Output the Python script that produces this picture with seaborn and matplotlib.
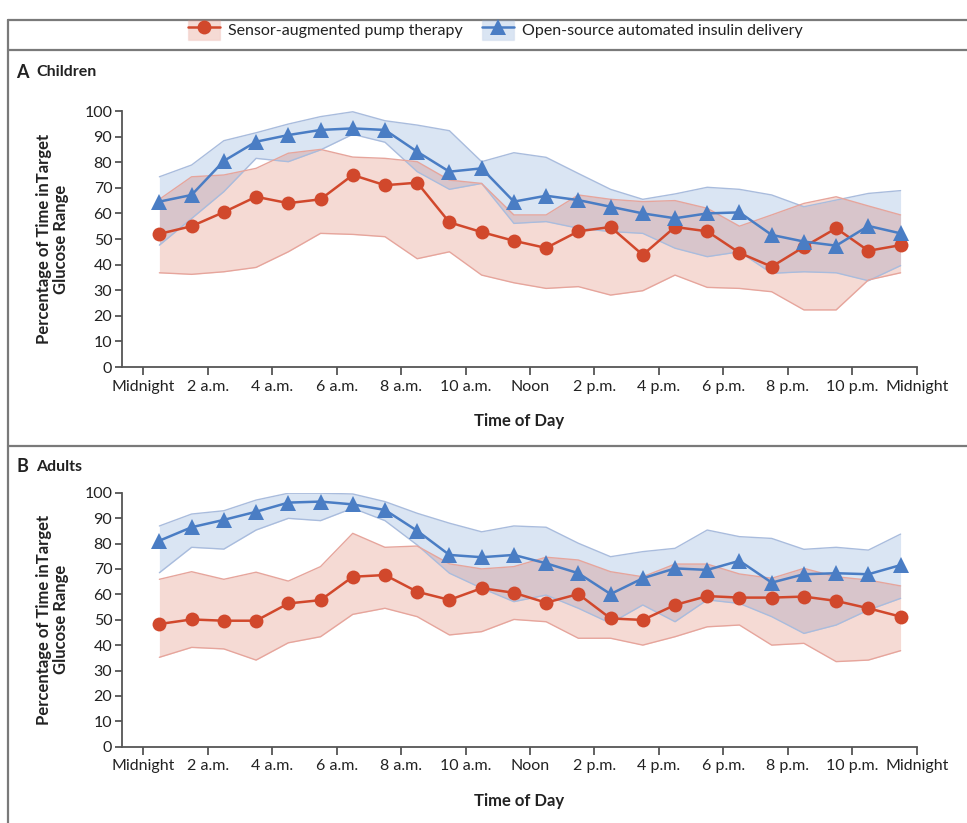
import matplotlib
matplotlib.use("Agg")
import matplotlib.pyplot as plt
import numpy as np
import pandas as pd
import seaborn as sns
from matplotlib.lines import Line2D
from matplotlib.patches import Rectangle
from matplotlib.legend_handler import HandlerTuple

# ---------------- data ----------------
hours = [0.5, 1.5, 2.5, 3.5, 4.5, 5.5, 6.5, 7.5, 8.5, 9.5, 10.5, 11.5,
         12.5, 13.5, 14.5, 15.5, 16.5, 17.5, 18.5, 19.5, 20.5, 21.5, 22.5, 23.5]
tick_hours = [0, 2, 4, 6, 8, 10, 12, 14, 16, 18, 20, 22, 24]
tick_labels = ["Midnight", "2 a.m.", "4 a.m.", "6 a.m.", "8 a.m.", "10 a.m.", "Noon",
               "2 p.m.", "4 p.m.", "6 p.m.", "8 p.m.", "10 p.m.", "Midnight"]
y_ticks = [0, 10, 20, 30, 40, 50, 60, 70, 80, 90, 100]
series_names = ["Sensor-augmented pump therapy", "Open-source automated insulin delivery"]

# Children
child_sap = [52, 55, 60.5, 66.5, 64, 65.5, 75, 71, 72, 56.5, 52.7, 49.3,
             46.5, 53, 54.7, 43.8, 54.7, 53, 44.6, 39.2, 46.9, 54.2, 45.4, 47.6]
child_sap_hi = [65.5, 74.3, 75, 77.6, 83.5, 85, 82, 81.5, 80.2, 73, 71.7, 59.4,
                59.4, 67.2, 65.5, 64.6, 65, 62, 55, 59.4, 63.9, 66.5, 62.9, 59.4]
child_sap_lo = [36.8, 36.2, 37.2, 38.9, 45, 52.2, 51.8, 50.9, 42.3, 45, 35.9, 32.9,
                30.7, 31.4, 28.1, 29.8, 35.9, 31.1, 30.7, 29.4, 22.3, 22.3, 34, 36.8]
child_oaid = [64.6, 67.2, 80.5, 88, 90.6, 92.6, 93.2, 92.6, 84.1, 76.3, 77.6, 64.6,
              66.9, 65.2, 62.6, 60, 58.1, 60, 60.4, 51.6, 49, 47.4, 55.1, 52.2]
child_oaid_hi = [74.3, 78.9, 88.4, 91.5, 94.9, 97.8, 99.7, 96.2, 94.5, 92.3, 80.2, 83.7,
                 81.9, 75.6, 69.4, 65.5, 67.6, 70.2, 69.4, 67.2, 62.6, 65.2, 67.8, 68.9]
child_oaid_lo = [47.6, 58, 68.5, 81.5, 80.2, 84.8, 90.9, 87.8, 76.3, 69.4, 71.7, 56.1,
                 56.8, 54.2, 52.9, 52.2, 46.4, 43.1, 45, 36.6, 37.2, 36.8, 33.7, 39.6]

# Adults
adult_sap = [48.3, 50.1, 49.6, 49.6, 56.4, 57.7, 66.9, 67.6, 61, 57.8, 62.4, 60.6,
             56.7, 60.1, 50.5, 49.9, 55.8, 59.3, 58.7, 58.7, 59.1, 57.4, 54.5, 51.2]
adult_sap_hi = [65.9, 68.9, 65.9, 68.7, 65.2, 70.9, 84, 78.5, 79, 72, 70, 70.9,
                74.6, 73.5, 68.9, 66.9, 71.9, 71.9, 68, 66.3, 70.2, 66.9, 65.6, 63.3]
adult_sap_lo = [35.2, 39.1, 38.5, 34.1, 40.9, 43.3, 52.1, 54.5, 51.2, 44, 45.3, 50.1,
                49.2, 42.7, 42.7, 40, 43.3, 47.2, 47.9, 40, 40.7, 33.5, 34.1, 37.8]
adult_oaid = [81.1, 86.4, 89.3, 92.5, 96.1, 96.5, 95.4, 93.2, 85, 75.5, 74.6, 75.5,
              72.2, 68.3, 60.1, 66.3, 70.2, 69.6, 73.2, 64.6, 67.9, 68.3, 67.9, 71.5]
adult_oaid_hi = [86.9, 91.6, 92.9, 97.1, 99.8, 99.8, 99.5, 96.5, 91.9, 88, 84.6, 86.9,
                 86.4, 80.1, 74.8, 76.8, 78.1, 85.3, 82.7, 82, 77.7, 78.5, 77.4, 83.7]
adult_oaid_lo = [68.5, 78.5, 77.8, 85.3, 89.9, 89, 93.9, 89, 79.4, 68.3, 62.4, 57.1,
                 59.7, 54.5, 48.6, 55.8, 49.2, 57.8, 56.4, 51.2, 44.6, 47.9, 53.8, 58.4]

# ---------------- style ----------------
sns.set_style("white")
plt.rcParams["font.family"] = ["Lato", "DejaVu Sans"]

RED = "#D1482C"
BLUE = "#4A7DC4"
RED_EDGE = "#E6A59C"
BLUE_EDGE = "#A9BCDD"
SPINE = "#555555"
TXT = "#222222"

W, H = 967, 823
fig = plt.figure(figsize=(W / 100, H / 100), dpi=100)

ax_left = 122 / W
ax_w = (916.7 - 122) / W
axA = fig.add_axes([ax_left, 1 - 367 / H, ax_w, (367 - 111) / H])
axB = fig.add_axes([ax_left, 1 - 746.7 / H, ax_w, (746.7 - 492.7) / H])


def draw_panel(ax, sap, sap_lo, sap_hi, oaid, oaid_lo, oaid_hi):
    # bands
    ax.fill_between(hours, oaid_lo, oaid_hi, color=BLUE, alpha=0.2, lw=0, zorder=1)
    ax.fill_between(hours, sap_lo, sap_hi, color=RED, alpha=0.2, lw=0, zorder=1)
    for lo, hi, ec in [(oaid_lo, oaid_hi, BLUE_EDGE), (sap_lo, sap_hi, RED_EDGE)]:
        ax.plot(hours, lo, color=ec, lw=1.0, zorder=2)
        ax.plot(hours, hi, color=ec, lw=1.0, zorder=2)
    df_s = pd.DataFrame({"hour": hours, "value": sap})
    df_o = pd.DataFrame({"hour": hours, "value": oaid})
    sns.lineplot(data=df_s, x="hour", y="value", color=RED, marker="o", markersize=10,
                 markeredgewidth=0, linewidth=1.8, ax=ax, zorder=3)
    sns.lineplot(data=df_o, x="hour", y="value", color=BLUE, marker="^", markersize=12,
                 markeredgewidth=0, linewidth=1.8, ax=ax, zorder=4)

    ax.set_xlim(-0.66, 24)
    ax.set_ylim(0, 100)
    ax.set_xticks(tick_hours)
    ax.set_xticklabels(tick_labels)
    ax.set_yticks(y_ticks)
    ax.set_yticklabels([str(v) for v in y_ticks])
    for s in ["top", "right"]:
        ax.spines[s].set_visible(False)
    for s in ["left", "bottom"]:
        ax.spines[s].set_color(SPINE)
        ax.spines[s].set_linewidth(1.3)
    ax.tick_params(axis="x", direction="out", length=6, width=1.3, color=SPINE,
                   labelsize=11.5, labelcolor=TXT, pad=3, bottom=True)
    ax.tick_params(axis="y", direction="out", length=5, width=1.3, color=SPINE,
                   labelsize=11.5, labelcolor=TXT, pad=2, left=True)
    ax.set_xlabel("Time of Day", fontsize=12, fontweight="bold", color=TXT, labelpad=14)
    ax.set_ylabel("Percentage of Time inTarget\nGlucose Range", fontsize=12,
                  fontweight="bold", color=TXT, labelpad=11, linespacing=1.05)
    ax.grid(False)


draw_panel(axA, child_sap, child_sap_lo, child_sap_hi, child_oaid, child_oaid_lo, child_oaid_hi)
draw_panel(axB, adult_sap, adult_sap_lo, adult_sap_hi, adult_oaid, adult_oaid_lo, adult_oaid_hi)

# panel titles
fig.text(16 / W, 1 - 72 / H, "A", fontsize=13, fontweight="bold", color=TXT, va="center")
fig.text(36 / W, 1 - 72 / H, "Children", fontsize=11.5, fontweight="bold", color=TXT, va="center")
fig.text(16 / W, 1 - 467 / H, "B", fontsize=13, fontweight="bold", color=TXT, va="center")
fig.text(36 / W, 1 - 467 / H, "Adults", fontsize=11.5, fontweight="bold", color=TXT, va="center")

# frame lines
FR = "#7a7a7a"
fig.add_artist(Line2D([8 / W, 8 / W], [0, 1 - 20 / H], transform=fig.transFigure, color=FR, lw=1.6))
for yy in [20, 50, 446]:
    fig.add_artist(Line2D([8 / W, 1], [1 - yy / H, 1 - yy / H], transform=fig.transFigure,
                          color=FR, lw=1.6))

# legend: shaded square with line + marker drawn over it
h_red = (Rectangle((0, 0), 1, 1, facecolor=RED, alpha=0.2, edgecolor=RED_EDGE),
         Line2D([], [], color=RED, marker="o", markersize=10, markeredgewidth=0, lw=1.8))
h_blue = (Rectangle((0, 0), 1, 1, facecolor=BLUE, alpha=0.2, edgecolor=BLUE_EDGE),
          Line2D([], [], color=BLUE, marker="^", markersize=12, markeredgewidth=0, lw=1.8))
fig.legend([h_red, h_blue], series_names, loc="center", bbox_to_anchor=(0.512, 1 - 30 / H),
           ncol=2, frameon=False, fontsize=11.5, handler_map={tuple: HandlerTuple(ndivide=1)},
           handlelength=2.0, handleheight=1.6, columnspacing=1.2, handletextpad=0.5,
           labelcolor=TXT)

fig.savefig("out.png", dpi=100)
